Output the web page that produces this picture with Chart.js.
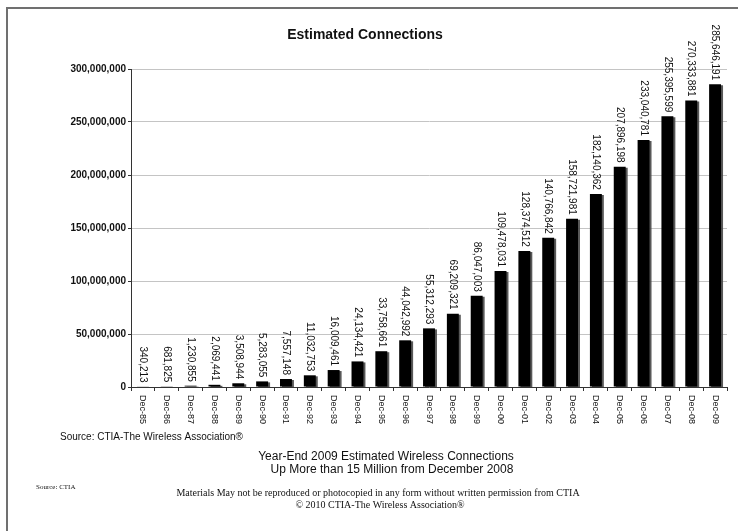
<!DOCTYPE html>
<html>
<head>
<meta charset="utf-8">
<script src="https://cdn.jsdelivr.net/npm/chart.js@4/dist/chart.umd.min.js"></script>
<style>
html,body{margin:0;padding:0;background:#fff;}
#wrap{position:relative;width:738px;height:531px;}
canvas{display:block;}
</style>
</head>
<body>
<div id="wrap"><canvas id="c" width="738" height="531"></canvas></div>
<script>
const categories = ["Dec-85","Dec-86","Dec-87","Dec-88","Dec-89","Dec-90","Dec-91","Dec-92","Dec-93","Dec-94","Dec-95","Dec-96","Dec-97","Dec-98","Dec-99","Dec-00","Dec-01","Dec-02","Dec-03","Dec-04","Dec-05","Dec-06","Dec-07","Dec-08","Dec-09"];
const connections = [340213,681825,1230855,2069441,3508944,5283055,7557148,11032753,16009461,24134421,33758661,44042992,55312293,69209321,86047003,109478031,128374512,140766842,158721981,182140362,207896198,233040781,255395599,270333881,285646191];
const yTicks = [0,50000000,100000000,150000000,200000000,250000000,300000000];
const chartTitle = "Estimated Connections";
const sourceLine = "Source: CTIA-The Wireless Association\u00AE";
const headline1 = "Year-End 2009 Estimated Wireless Connections";
const headline2 = "Up More than 15 Million from December 2008";
const smallSource = "Source: CTIA";
const notice1 = "Materials May not be reproduced or photocopied in any form without written permission from CTIA";
const notice2 = "\u00A9 2010 CTIA-The Wireless Association\u00AE";

const SANS = "'Liberation Sans', Arial, sans-serif";
const SERIF = "'Liberation Serif', 'Times New Roman', serif";
const fmt = v => Number(v).toLocaleString('en-US');

const decor = {
  id: 'decor',
  beforeDatasetsDraw(chart) {
    const ctx = chart.ctx;
    ctx.save();
    ctx.shadowColor = 'rgba(70,70,70,0.9)';
    ctx.shadowOffsetX = 2;
    ctx.shadowOffsetY = 1;
    ctx.shadowBlur = 0;
  },
  afterDatasetsDraw(chart) {
    const ctx = chart.ctx;
    ctx.restore();
    const meta = chart.getDatasetMeta(0);
    ctx.save();
    ctx.fillStyle = '#111';
    ctx.font = "10px " + SANS;
    meta.data.forEach((bar, i) => {
      ctx.save();
      ctx.translate(bar.x, bar.y - 4);
      ctx.rotate(Math.PI / 2);
      ctx.textAlign = 'right';
      ctx.textBaseline = 'middle';
      ctx.fillText(fmt(connections[i]), 0, 0);
      ctx.restore();
    });
    // x tick labels, rotated clockwise
    const xs = chart.scales.x;
    ctx.font = "9px " + SANS;
    ctx.fillStyle = '#111';
    categories.forEach((c, i) => {
      ctx.save();
      ctx.translate(xs.getPixelForValue(i), xs.top + 8);
      ctx.rotate(Math.PI / 2);
      ctx.textAlign = 'left';
      ctx.textBaseline = 'middle';
      ctx.fillText(c, 0, 0);
      ctx.restore();
    });
    ctx.restore();
  },
  afterDraw(chart) {
    const ctx = chart.ctx;
    ctx.save();
    // frame
    ctx.strokeStyle = '#707070';
    ctx.lineWidth = 2;
    ctx.beginPath();
    ctx.moveTo(7, 531);
    ctx.lineTo(7, 8);
    ctx.lineTo(738, 8);
    ctx.stroke();
    ctx.fillStyle = '#111';
    ctx.textBaseline = 'middle';
    ctx.textAlign = 'center';
    ctx.font = "bold 14px " + SANS;
    ctx.fillText(chartTitle, 365, 35);
    ctx.textAlign = 'left';
    ctx.font = "10px " + SANS;
    ctx.fillText(sourceLine, 60, 437);
    ctx.textAlign = 'center';
    ctx.font = "12px " + SANS;
    ctx.fillText(headline1, 386, 457);
    ctx.fillText(headline2, 392, 470);
    ctx.textAlign = 'left';
    ctx.font = "7px " + SERIF;
    ctx.fillText(smallSource, 36, 487);
    ctx.textAlign = 'center';
    ctx.font = "10px " + SERIF;
    ctx.fillText(notice1, 378, 493);
    ctx.fillText(notice2, 380, 505);
    ctx.restore();
  }
};

new Chart(document.getElementById('c'), {
  type: 'bar',
  data: {
    labels: categories,
    datasets: [{
      data: connections,
      backgroundColor: '#000',
      borderWidth: 0,
      barPercentage: 0.5,
      categoryPercentage: 1.0
    }]
  },
  options: {
    responsive: false,
    animation: false,
    devicePixelRatio: 1,
    layout: { padding: { left: 0, top: 69, right: 11, bottom: 100 } },
    plugins: { legend: { display: false }, title: { display: false }, tooltip: { enabled: false } },
    scales: {
      x: {
        offset: true,
        grid: { display: true, drawOnChartArea: false, drawTicks: true, tickLength: 4, color: '#333', offset: true },
        border: { display: true, color: '#333', width: 1 },
        ticks: { display: false },
        afterFit(s) { s.height = 44; }
      },
      y: {
        min: 0, max: 300000000,
        afterBuildTicks(s) { s.ticks = yTicks.map(v => ({ value: v })); },
        grid: { color: '#c4c4c4', tickLength: 3, tickColor: '#333' },
        border: { display: true, color: '#333', width: 1 },
        ticks: {
          padding: 2,
          color: '#111',
          font: { family: SANS, size: 10, weight: 'bold' },
          callback: v => fmt(v)
        },
        afterFit(s) { s.width = 131; }
      }
    }
  },
  plugins: [decor]
});
</script>
</body>
</html>
